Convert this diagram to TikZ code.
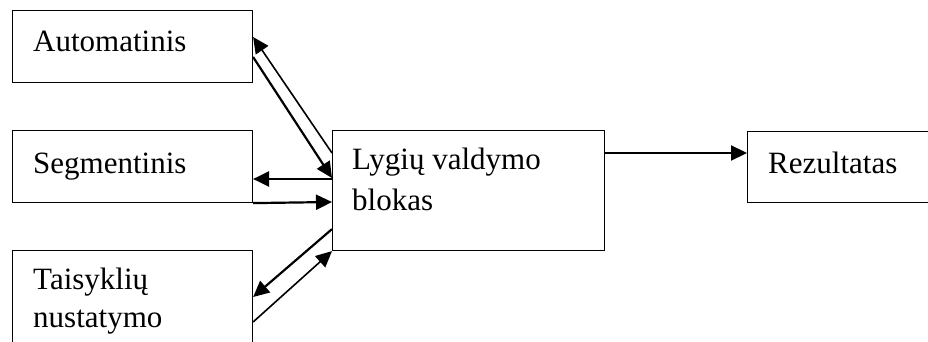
\documentclass[tikz,border=0pt]{standalone}
\usepackage{fontspec}
\setmainfont{Liberation Serif}
\usetikzlibrary{arrows.meta,calc}
\begin{document}
\begin{tikzpicture}[x=1pt,y=-1pt,
  box/.style={draw=black,line width=1.1pt,rectangle,inner sep=0pt,anchor=north west},
  txt/.style={anchor=base west,inner sep=0pt,align=left,
    font=\fontsize{31}{39}\selectfont},
  link/.style={line width=2.2pt,-{Triangle[length=16pt,width=15pt]}},
  thinlink/.style={line width=1.6pt,-{Triangle[length=16pt,width=15pt]}}]
  \useasboundingbox (0,0) rectangle (928,342);
  % blocks
  \node[box,minimum width=240pt,minimum height=72pt] (auto) at (12,10) {};
  \node[box,minimum width=240pt,minimum height=72pt] (seg) at (12,130) {};
  \node[box,minimum width=240pt,minimum height=112pt] (tais) at (12,250) {};
  \node[box,minimum width=272pt,minimum height=120pt] (lyg) at (332,130) {};
  \node[box,minimum width=200pt,minimum height=71pt] (rez) at (747,131) {};
  % captions
  \node[txt] (autoT) at (33,52) {Automatinis};
  \node[txt] (segT) at (33,173) {Segmentinis};
  \node[txt,font=\fontsize{31}{38}\selectfont] (taisT) at (33,327) {Taisyklių\\nustatymo};
  \node[txt,font=\fontsize{31}{41}\selectfont] (lygT) at (352,210) {Lygių valdymo\\blokas};
  \node[txt] (rezT) at (768,173) {Rezultatas};
  % connectors
  \draw[thinlink] ($(lyg.north west)+(0,23)$) -- ($(auto.north east)+(0,27)$);
  \draw[link] ($(auto.north east)+(0,47)$) -- ($(lyg.north west)+(0,48)$);
  \draw[link] ($(lyg.north west)+(0,49)$) -- ($(seg.north east)+(0,49)$);
  \draw[link] (seg.south east) -- ($(lyg.north west)+(0,72)$);
  \draw[link] ($(lyg.south west)+(0,-22)$) -- ($(tais.north east)+(0,47)$);
  \draw[thinlink] ($(tais.north east)+(0,72)$) -- (lyg.south west);
  \draw[link] ($(lyg.north east)+(0,23)$) -- ($(rez.north west)+(0,22)$);
\end{tikzpicture}
\end{document}
